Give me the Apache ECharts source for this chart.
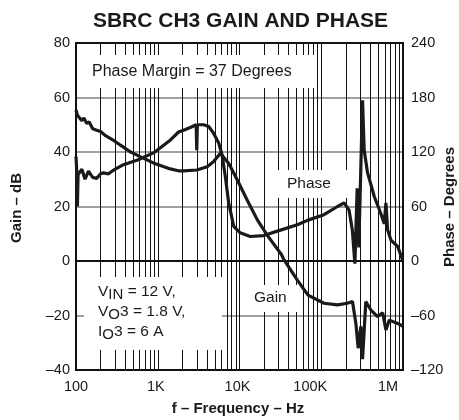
<!DOCTYPE html>
<html><head><meta charset="utf-8">
<script src="https://cdn.jsdelivr.net/npm/echarts@6/dist/echarts.min.js"></script>
<style>html,body{margin:0;padding:0;background:#fff}#c{width:459px;height:420px}</style>
</head><body><div id="c"></div>
<script>
const FONT = '"Liberation Sans", Arial, Helvetica, sans-serif';

// Gain curve (Hz, dB)
const gainFreq = [100,104,110,118,125,135,145,160,179,200,230,284,350,460,609,883,1424,1785,2070,3010,4020,4800,5830,7390,9400,12400,16600,21800,32400,35100,51000,68900,108000,158000,209000,241000,265000,283000,305000,320000,351000,405000,489000,564000,618000,679000,861000,1000000];
const gainDb   = [55.4,53.5,54,51.5,52.5,50.5,51,48.5,48,47.5,46,44.4,42.5,40.1,38.3,36,33.8,33.1,33.1,33.4,34.6,36.4,39.5,35.8,29.7,22.4,15,9.5,2.5,0.4,-7,-12.5,-15.5,-16.1,-15.5,-14.9,-22.8,-32,-24,-36,-14.9,-18,-20.4,-19,-25.3,-21.7,-22.9,-24];

// Phase curve (Hz, degrees)
const phaseFreq = [100,102,104,106,112,118,123,129,135,142,148,160,179,200,216,250,287,381,556,887,1420,1800,2070,2500,2950,3000,3050,3640,4200,4800,5560,6110,6710,7370,8500,10200,13500,19800,31700,51000,68900,108000,158000,190500,219000,240000,258000,275000,288000,320000,335000,369000,445000,537000,590000,618000,649000,712000,861000,991000];
const phaseDeg  = [115,100,60,95,93,101,100,90,89,99,98,92,91,96,97,96,100,106,111,119,133,142,144,147,150,122,150,150,148,141,130,117,93,64,38,31,27,28,34,40,45,51,60,64,56,34,-3,80,15,177,122,97,71,52,41,64,34,23,16,1];

// Axis ticks
const freqTicks = [100,1000,10000,100000,1000000];
const freqTickLabels = ['100','1K','10K','100K','1M'];
const gainTicks = [-40,-20,0,20,40,60,80];
const phaseTicks = [-120,-60,0,60,120,180,240];

const gridFreqs = [];
for (let d = 0; d < freqTicks.length - 1; d++) {
  for (let m = 1; m <= 9; m++) {
    const f = freqTicks[d] * m;
    if (f > freqTicks[0]) gridFreqs.push(f);
  }
}

const chart = echarts.init(document.getElementById('c'), null, {renderer: 'canvas'});

chart.setOption({
  animation: false,
  backgroundColor: '#fff',
  grid: {left: 76, right: 56, top: 43, bottom: 50, show: true, borderColor: '#111', borderWidth: 2, backgroundColor: 'transparent'},
  xAxis: {
    type: 'log', logBase: 10, min: freqTicks[0], max: freqTicks[freqTicks.length - 1],
    axisLine: {show: true, lineStyle: {color: '#111', width: 2}},
    axisTick: {show: false}, splitLine: {show: false}, minorTick: {show: false},
    axisLabel: {
      margin: 9, fontSize: 14.5, fontFamily: FONT, color: '#1a1a1a',
      formatter: function (v) {
        const i = freqTicks.findIndex(t => Math.abs(Math.log10(t) - Math.log10(v)) < 1e-6);
        if (i < 0) return '';
        const s = freqTickLabels[i];
        if (i === 3) return '{a|' + s + '}';
        if (i === 4) return '{b|' + s + '}';
        if (i === 1 || i === 2) return '{c|' + s + '}';
        return s;
      },
      rich: {
        a: {fontSize: 14.5, fontFamily: FONT, color: '#1a1a1a', padding: [0, 22, 0, 0]},
        b: {fontSize: 14.5, fontFamily: FONT, color: '#1a1a1a', padding: [0, 30, 0, 0]},
        c: {fontSize: 14.5, fontFamily: FONT, color: '#1a1a1a', padding: [0, 4, 0, 0]}
      }
    }
  },
  yAxis: [{
    type: 'value', min: gainTicks[0], max: gainTicks[gainTicks.length - 1], interval: 20,
    axisLine: {show: true, lineStyle: {color: '#111', width: 2}},
    axisTick: {show: false},
    splitLine: {show: true, showMinLine: false, showMaxLine: false, lineStyle: {color: '#808080', width: 1.5}},
    axisLabel: {margin: 6, fontSize: 14.5, fontFamily: FONT, color: '#1a1a1a', formatter: v => String(v).replace('-', '\u2013')}
  }, {
    type: 'value', min: phaseTicks[0], max: phaseTicks[phaseTicks.length - 1], interval: 60, position: 'right',
    axisLine: {show: true, lineStyle: {color: '#111', width: 2}},
    axisTick: {show: false}, splitLine: {show: false},
    axisLabel: {margin: 8, fontSize: 14.5, fontFamily: FONT, color: '#1a1a1a', formatter: v => String(v).replace('-', '\u2013')}
  }],
  graphic: [
    {type: 'rect', z: 2, silent: true, shape: {x: 78, y: 55, width: 237, height: 33}, style: {fill: '#fff'}},
    {type: 'rect', z: 2, silent: true, shape: {x: 278, y: 170, width: 69, height: 28}, style: {fill: '#fff'}},
    {type: 'rect', z: 2, silent: true, shape: {x: 246, y: 285, width: 57, height: 27}, style: {fill: '#fff'}},
    {type: 'rect', z: 2, silent: true, shape: {x: 84, y: 277, width: 138, height: 73}, style: {fill: '#fff'}},
    {type: 'text', z: 4, silent: true, style: {text: 'SBRC CH3 GAIN AND PHASE', x: 240.5, y: 21, fontSize: 21, fontWeight: 'bold', align: 'center', verticalAlign: 'middle', fill: '#1a1a1a', fontFamily: FONT}},
    {type: 'text', z: 4, silent: true, style: {text: 'Phase Margin = 37 Degrees', x: 92, y: 72, fontSize: 16, align: 'left', verticalAlign: 'middle', fill: '#1a1a1a', fontFamily: FONT}},
    {type: 'text', z: 4, silent: true, style: {text: 'Phase', x: 287, y: 184, fontSize: 15.5, align: 'left', verticalAlign: 'middle', fill: '#1a1a1a', fontFamily: FONT}},
    {type: 'text', z: 4, silent: true, style: {text: 'Gain', x: 254, y: 298, fontSize: 15.5, align: 'left', verticalAlign: 'middle', fill: '#1a1a1a', fontFamily: FONT}},
    {type: 'text', z: 4, silent: true, style: {
      text: 'V{s|IN} = 12 V,\nV{s|O}3 = 1.8 V,\nI{s|O}3 = 6 A', x: 98, y: 282,
      fontSize: 15.5, lineHeight: 20, align: 'left', verticalAlign: 'top', fill: '#1a1a1a', fontFamily: FONT,
      rich: {s: {fontSize: 15, lineHeight: 13, verticalAlign: 'bottom', fill: '#1a1a1a', fontFamily: FONT}}
    }},
    {type: 'text', z: 4, silent: true, style: {text: 'f \u2013 Frequency \u2013 Hz', x: 238, y: 409, fontSize: 15, fontWeight: 'bold', align: 'center', verticalAlign: 'middle', fill: '#1a1a1a', fontFamily: FONT}},
    {type: 'text', z: 4, silent: true, x: 17, y: 208, rotation: Math.PI / 2, style: {text: 'Gain \u2013 dB', x: 0, y: 0, fontSize: 15, fontWeight: 'bold', align: 'center', verticalAlign: 'middle', fill: '#1a1a1a', fontFamily: FONT}},
    {type: 'text', z: 4, silent: true, x: 450, y: 207, rotation: Math.PI / 2, style: {text: 'Phase \u2013 Degrees', x: 0, y: 0, fontSize: 15, fontWeight: 'bold', align: 'center', verticalAlign: 'middle', fill: '#1a1a1a', fontFamily: FONT}}
  ],
  series: [{
    type: 'line', name: 'grid', data: [], silent: true, z: 1,
    markLine: {
      silent: true, z: 1, symbol: ['none', 'none'], label: {show: false}, animation: false,
      lineStyle: {color: '#111', width: 1, type: 'solid'},
      emphasis: {disabled: true},
      data: gridFreqs.map(f => ({xAxis: f})).concat([{yAxis: 0, lineStyle: {color: '#111', width: 1, type: 'solid'}}])
    }
  }, {
    type: 'line', name: 'Gain', yAxisIndex: 0, z: 3, showSymbol: false, symbol: 'none', smooth: false,
    lineStyle: {color: '#1a1a1a', width: 3.2}, itemStyle: {color: '#1a1a1a'},
    data: gainFreq.map((f, i) => [f, gainDb[i]])
  }, {
    type: 'line', name: 'Phase', yAxisIndex: 1, z: 3, showSymbol: false, symbol: 'none', smooth: false,
    lineStyle: {color: '#1a1a1a', width: 3.2}, itemStyle: {color: '#1a1a1a'},
    data: phaseFreq.map((f, i) => [f, phaseDeg[i]])
  }]
});
</script></body></html>
